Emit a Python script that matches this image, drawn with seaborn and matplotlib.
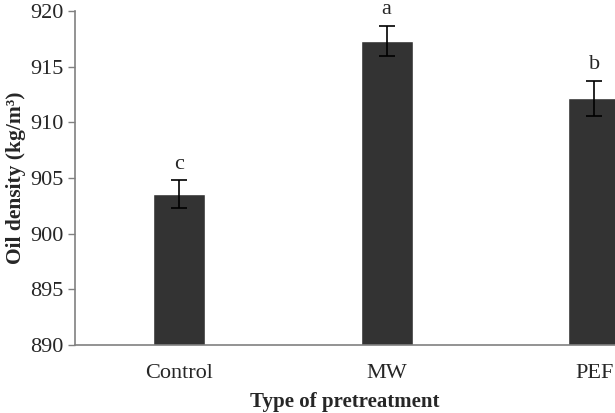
import matplotlib
matplotlib.use('Agg')
import matplotlib.pyplot as plt
import pandas as pd
import seaborn as sns

treatments = ['Control', 'MW', 'PEF']
density = [903.55, 917.3, 912.15]
density_err = [1.25, 1.35, 1.6]
letters = ['c', 'a', 'b']


def main():
    sns.set_style('white')
    plt.rcParams['font.family'] = ['Liberation Serif', 'DejaVu Serif']

    df = pd.DataFrame({'treatment': treatments, 'density': density})

    fig = plt.figure(figsize=(6.15, 4.13), dpi=100)
    ax = fig.add_axes([0.122, 0.165, 0.878, 0.808])

    sns.barplot(data=df, x='treatment', y='density', ax=ax, color='#333333',
                saturation=1, width=0.25, errorbar=None, bottom=0)
    ax.errorbar(range(len(treatments)), density, yerr=density_err, fmt='none',
                ecolor='black', elinewidth=1.2, capsize=6, capthick=1.2)
    for i, (v, e, s) in enumerate(zip(density, density_err, letters)):
        ax.text(i, v + e + 0.6, s, ha='center', va='bottom', fontsize=16)

    ax.set_ylim(890, 920)
    ax.set_yticks(range(890, 921, 5))
    ax.set_xlim(-0.5, 2.1)
    ax.tick_params(axis='y', labelsize=16, direction='out', length=5, width=1,
                   color='#808080', left=True, pad=3)
    ax.tick_params(axis='x', labelsize=16, length=0, pad=14)

    ax.set_xlabel('Type of pretreatment', fontsize=15, fontweight='bold', labelpad=6)
    ax.set_ylabel('Oil density (kg/m³)', fontsize=15.5, fontweight='bold')
    ax.yaxis.set_label_coords(-0.09, 0.5)

    sns.despine(ax=ax, top=True, right=True)
    for side in ['left', 'bottom']:
        ax.spines[side].set_color('#808080')
        ax.spines[side].set_linewidth(1.2)

    fig.savefig('out.png', dpi=100)


if __name__ == '__main__':
    main()
